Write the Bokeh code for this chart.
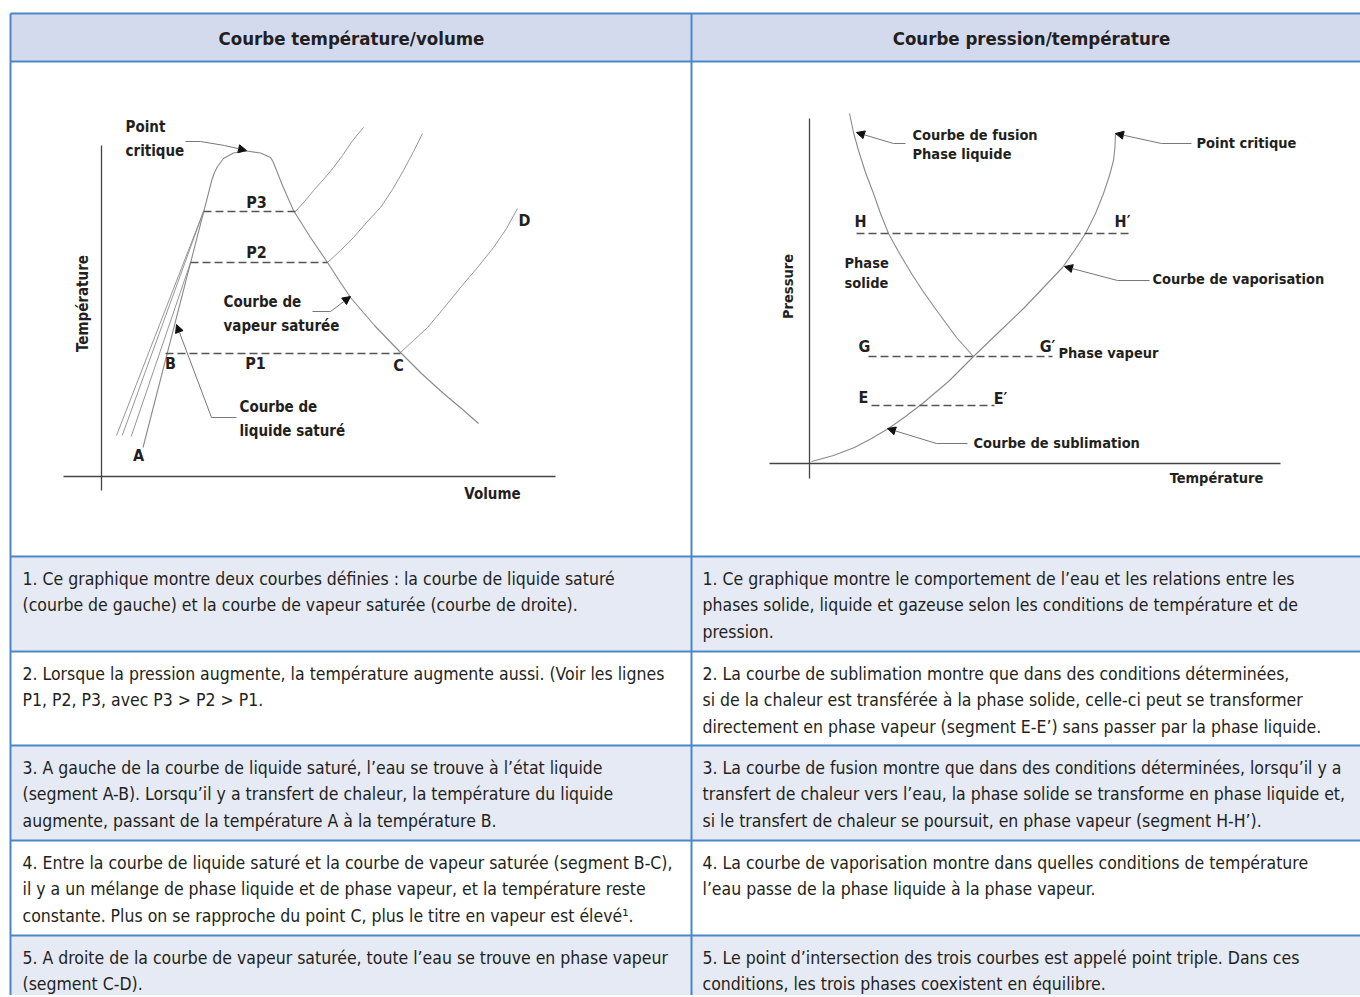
from bokeh.plotting import figure
from bokeh.models import Range1d, Arrow, NormalHead
from bokeh.core.properties import value
from bokeh.embed import file_html
from bokeh.resources import INLINE
import math

# ---------------- data (reference pixel space) ----------------
# Left diagram: temperature / volume
lv_axis_y_x = [101, 101]; lv_axis_y_y = [145, 490]
lv_axis_x_x = [63, 555]; lv_axis_x_y = [476, 476]
dome_x = [142.5, 211.5, 214, 217, 223, 233, 246, 260, 270, 272.5,
          282, 293, 310, 327, 338, 350, 374, 400, 421, 443, 461, 478]
dome_y = [447, 179, 172, 166, 158, 152.5, 150.5, 152.5, 157, 161,
          185, 210, 237, 262, 279, 297, 325, 352, 373, 393, 408, 423]
comp_lines_x = [[116, 203], [121.7, 203], [130.7, 190]]
comp_lines_y = [[435, 211], [435, 211], [436, 262]]
isobar_names = ["P3", "P2", "P1"]
isobar_y = [211, 262, 353]
isobar_x0 = [203, 190, 165]
isobar_x1 = [295, 327, 400]
iso_curve_x = [[295, 304, 313, 323, 333, 342, 350, 357, 363],
               [327, 340, 353, 366, 380, 392, 403, 413, 422],
               [400, 413, 427, 443, 460, 477, 493, 506, 517]]
iso_curve_y = [[211, 201, 190, 179, 167, 155, 143, 134, 127],
               [262, 250, 237, 222, 207, 189, 170, 151, 133],
               [352, 340, 327, 308, 287, 267, 247, 228, 208]]

# Right diagram: pressure / temperature
pt_axis_y_x = [809, 809]; pt_axis_y_y = [118, 478]
pt_axis_x_x = [769, 1280]; pt_axis_x_y = [463, 463]
fusion_x = [849, 853, 858, 865, 873, 880, 888, 899, 911, 922, 934, 945, 956, 965, 973]
fusion_y = [113, 132, 150, 172, 193, 213, 233, 253, 273, 290, 307, 322, 337, 347, 356]
vapo_x = [811, 833, 854, 871, 888, 905, 922, 948, 973, 999, 1024, 1044, 1062, 1074, 1085, 1095, 1103, 1109, 1113, 1114.5, 1115]
vapo_y = [461, 455, 447, 438, 428, 416, 403, 381, 356, 331, 307, 286, 267, 250, 233, 213, 193, 175, 160, 146, 133]
pt_lines_names = [("H", "H\u2032"), ("G", "G\u2032"), ("E", "E\u2032")]
pt_lines_y = [233, 356, 405]
pt_lines_x0 = [856, 868, 871]
pt_lines_x1 = [1128, 1052, 994]

# Table
headers = ["Courbe température/volume", "Courbe pression/température"]
row_tops = [556, 651, 745, 840, 935]
row_bots = [651, 745, 840, 935, 1010]
row_shaded = [True, False, True, False, True]
left_texts = [
    ["1. Ce graphique montre deux courbes définies : la courbe de liquide saturé",
     "(courbe de gauche) et la courbe de vapeur saturée (courbe de droite)."],
    ["2. Lorsque la pression augmente, la température augmente aussi. (Voir les lignes",
     "P1, P2, P3, avec P3 > P2 > P1."],
    ["3. A gauche de la courbe de liquide saturé, l\u2019eau se trouve à l\u2019état liquide",
     "(segment A-B). Lorsqu\u2019il y a transfert de chaleur, la température du liquide",
     "augmente, passant de la température A à la température B."],
    ["4. Entre la courbe de liquide saturé et la courbe de vapeur saturée (segment B-C),",
     "il y a un mélange de phase liquide et de phase vapeur, et la température reste",
     "constante. Plus on se rapproche du point C, plus le titre en vapeur est élevé\u00b9."],
    ["5. A droite de la courbe de vapeur saturée, toute l\u2019eau se trouve en phase vapeur",
     "(segment C-D)."],
]
right_texts = [
    ["1. Ce graphique montre le comportement de l\u2019eau et les relations entre les",
     "phases solide, liquide et gazeuse selon les conditions de température et de",
     "pression."],
    ["2. La courbe de sublimation montre que dans des conditions déterminées,",
     "si de la chaleur est transférée à la phase solide, celle-ci peut se transformer",
     "directement en phase vapeur (segment E-E\u2019) sans passer par la phase liquide."],
    ["3. La courbe de fusion montre que dans des conditions déterminées, lorsqu\u2019il y a",
     "transfert de chaleur vers l\u2019eau, la phase solide se transforme en phase liquide et,",
     "si le transfert de chaleur se poursuit, en phase vapeur (segment H-H\u2019)."],
    ["4. La courbe de vaporisation montre dans quelles conditions de température",
     "l\u2019eau passe de la phase liquide à la phase vapeur."],
    ["5. Le point d\u2019intersection des trois courbes est appelé point triple. Dans ces",
     "conditions, les trois phases coexistent en équilibre."],
]

# ---------------- styling ----------------
FONT = "'DejaVu Sans Condensed', Roboto, sans-serif"
TXT = "#231f20"
BLUE = "#4a87c9"
HEAD_BG = "#d4daee"
ROW_BG = "#e6eaf5"
CURVE = "#8a8a8a"
AXIS = "#444444"
DASH = "#555555"
LEAD = "#777777"

W, H = 1360, 995
p = figure(width=W, height=H, x_range=Range1d(0, W), y_range=Range1d(H, 0),
           output_backend="svg", toolbar_location=None, min_border=0,
           outline_line_color=None, background_fill_color="white",
           border_fill_color="white")
p.axis.visible = False
p.grid.visible = False

# table backgrounds
p.quad(left=[10], right=[1360], top=[13], bottom=[61], fill_color=HEAD_BG, line_color=None)
for t, b, s in zip(row_tops, row_bots, row_shaded):
    if s:
        p.quad(left=[10], right=[1360], top=[t], bottom=[b], fill_color=ROW_BG, line_color=None)

# table borders
for yy in [13, 61] + row_tops:
    p.line([10, 1360], [yy, yy], line_color=BLUE, line_width=2)
p.line([10, 10], [13, 1010], line_color=BLUE, line_width=2)
p.line([691, 691], [13, 1010], line_color=BLUE, line_width=2)

def txt(x, y, s, size=20, bold=False, align="left", angle=0.0, color=TXT):
    p.text(x=[x], y=[y], text=[s], text_font=value(FONT), text_font_size=f"{size}px",
           text_font_style="bold" if bold else "normal", text_align=align,
           text_baseline="middle", angle=angle, text_color=color)

# headers
txt(351, 38, headers[0], size=18.5, bold=True, align="center")
txt(1031, 38, headers[1], size=18.5, bold=True, align="center")

# table text
BODY = 17.5
for i, (lt, rt) in enumerate(zip(left_texts, right_texts)):
    y0 = row_tops[i] + 22
    for j, s in enumerate(lt):
        txt(22, y0 + j * 26.7, s, size=BODY)
    for j, s in enumerate(rt):
        txt(702, y0 + j * 26.7, s, size=BODY)

def arrow(xs, ys, x1, y1):
    p.add_layout(Arrow(end=NormalHead(size=8, fill_color="#111111", line_color="#111111"),
                       x_start=xs, y_start=ys, x_end=x1, y_end=y1,
                       line_color=LEAD, line_width=1))

# ---------------- left diagram ----------------
p.line(lv_axis_y_x, lv_axis_y_y, line_color=AXIS, line_width=1.3)
p.line(lv_axis_x_x, lv_axis_x_y, line_color=AXIS, line_width=1.3)
p.line(dome_x, dome_y, line_color=CURVE, line_width=1.1)
p.multi_line(comp_lines_x, comp_lines_y, line_color=CURVE, line_width=0.9)
p.multi_line(iso_curve_x, iso_curve_y, line_color=CURVE, line_width=0.9)
p.segment(x0=isobar_x0, y0=isobar_y, x1=isobar_x1, y1=isobar_y,
          line_color=DASH, line_width=1.3, line_dash="8 4")

LB = 14.5
LL = 16
txt(125, 126, "Point", size=LB + 0.5, bold=True)
txt(125, 150, "critique", size=LB + 0.5, bold=True)
p.line([185, 200, 224], [141, 141, 145], line_color=LEAD, line_width=1)
arrow(224, 145, 246, 150)
txt(256, 202, "P3", size=LL, bold=True, align="center")
txt(256, 252, "P2", size=LL, bold=True, align="center")
txt(255, 363, "P1", size=LL, bold=True, align="center")
txt(223, 301, "Courbe de", size=LB + 0.5, bold=True)
txt(223, 325, "vapeur saturée", size=LB + 0.5, bold=True)
p.line([312, 330], [311, 311], line_color=LEAD, line_width=1)
arrow(330, 311, 350, 296)
txt(170, 363, "B", size=LL, bold=True, align="center")
txt(398, 365, "C", size=LL, bold=True, align="center")
txt(138, 455, "A", size=LL, bold=True, align="center")
txt(524, 220, "D", size=LL, bold=True, align="center")
txt(239, 406, "Courbe de", size=LB + 0.5, bold=True)
txt(239, 430, "liquide saturé", size=LB + 0.5, bold=True)
p.line([236, 211], [417, 417], line_color=LEAD, line_width=1)
arrow(211, 417, 176, 324)
txt(82, 303, "Température", size=LB + 0.5, bold=True, align="center", angle=math.pi / 2)
txt(492, 493, "Volume", size=LB + 0.5, bold=True, align="center")

# ---------------- right diagram ----------------
p.line(pt_axis_y_x, pt_axis_y_y, line_color=AXIS, line_width=1.3)
p.line(pt_axis_x_x, pt_axis_x_y, line_color=AXIS, line_width=1.3)
p.line(fusion_x, fusion_y, line_color=CURVE, line_width=1.1)
p.line(vapo_x, vapo_y, line_color=CURVE, line_width=1.1)
p.segment(x0=pt_lines_x0, y0=pt_lines_y, x1=pt_lines_x1, y1=pt_lines_y,
          line_color=DASH, line_width=1.3, line_dash="8 4")

txt(912, 134, "Courbe de fusion", size=LB, bold=True)
txt(912, 153, "Phase liquide", size=LB, bold=True)
p.line([905, 893], [143, 143], line_color=LEAD, line_width=1)
arrow(893, 143, 856, 132)
txt(1196, 142, "Point critique", size=LB, bold=True)
p.line([1191, 1161], [143, 143], line_color=LEAD, line_width=1)
arrow(1161, 143, 1115, 133)
txt(860, 221, pt_lines_names[0][0], size=LL, bold=True, align="center")
txt(1122, 221, pt_lines_names[0][1], size=LL, bold=True, align="center")
txt(844, 262, "Phase", size=LB, bold=True)
txt(844, 282, "solide", size=LB, bold=True)
txt(1152, 278, "Courbe de vaporisation", size=LB, bold=True)
p.line([1149, 1117], [280, 280], line_color=LEAD, line_width=1)
arrow(1117, 280, 1064, 266)
txt(864, 346, pt_lines_names[1][0], size=LL, bold=True, align="center")
txt(1047, 346, pt_lines_names[1][1], size=LL, bold=True, align="center")
txt(1058, 352, "Phase vapeur", size=LB, bold=True)
txt(863, 397, pt_lines_names[2][0], size=LL, bold=True, align="center")
txt(1000, 398, pt_lines_names[2][1], size=LL, bold=True, align="center")
txt(973, 442, "Courbe de sublimation", size=LB, bold=True)
p.line([967, 936], [443, 443], line_color=LEAD, line_width=1)
arrow(936, 443, 887, 428)
txt(787, 286, "Pressure", size=LB, bold=True, align="center", angle=math.pi / 2)
txt(1216, 477, "Température", size=LB, bold=True, align="center")

open("out.html", "w").write(file_html(p, INLINE))
